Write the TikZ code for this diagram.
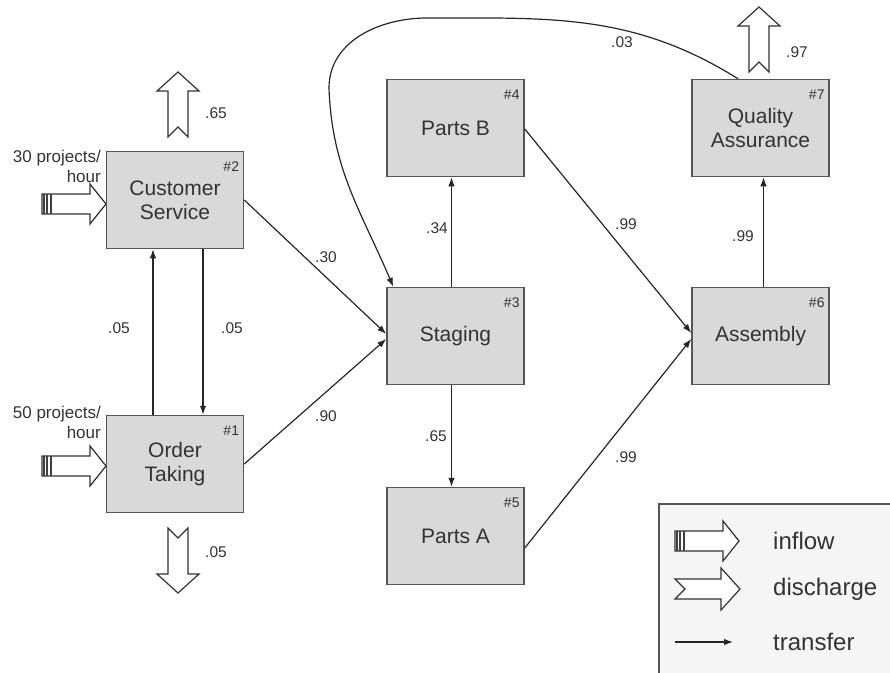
\documentclass[tikz,border=0pt]{standalone}
\usepackage{fontspec}
\setmainfont{Liberation Sans}
\usetikzlibrary{arrows.meta,calc}
\definecolor{boxfill}{HTML}{D9D9D9}
\definecolor{boxline}{HTML}{555555}
\definecolor{txt}{HTML}{333333}
\definecolor{legfill}{HTML}{F5F5F5}
\tikzset{
  proc/.style={draw=boxline, fill=boxfill, line width=1.5pt, minimum width=137pt,
    minimum height=97pt, inner sep=0pt, align=center,
    font=\fontsize{21}{24}\selectfont, text=txt},
  numlab/.style={anchor=north east, font=\fontsize{14}{16}\selectfont, text=txt,
    inner sep=0pt, xshift=-5pt, yshift=-11pt},
  transfer/.style={draw=black!85, line width=1.2pt, -{Latex[length=9pt,width=6.5pt]}},
  prob/.style={font=\fontsize{15.5}{18}\selectfont, text=txt, inner sep=1pt},
  inlab/.style={font=\fontsize{17}{20}\selectfont, text=txt, align=right, inner sep=0pt, anchor=east},
  leglab/.style={font=\fontsize{24}{28}\selectfont, text=txt, anchor=west, inner sep=0pt},
  bigarrow/.style={draw=black!80, fill=white, line width=1.2pt, line join=miter},
  pics/discharge/.style={code={
    \path[bigarrow] (0,10)--(10,0)--(0,-10)--(46,-10)--(46,-21)--(65,0)--(46,21)--(46,10)--cycle;
  }},
  pics/inflow/.style={code={
    \path[bigarrow] (0,10)--(0,-10)--(48,-10)--(48,-20)--(64,0)--(48,20)--(48,10)--cycle;
    \draw[line width=2pt, draw=black!75] (1.5,-10)--(1.5,10) (5,-10)--(5,10) (8.5,-10)--(8.5,10);
  }},
}
\begin{document}
\begin{tikzpicture}[x=1pt,y=1pt]
\path[use as bounding box] (0,0) rectangle (890,-672);

% legend box
\path[draw=boxline, fill=legfill, line width=1.5pt] (659,-504) rectangle (896,-680);

% process boxes
\node[proc] (cs) at (175,-200) {Customer\\Service};
\node[proc] (ot) at (175,-464) {Order\\Taking};
\node[proc] (st) at (455.5,-336) {Staging};
\node[proc] (pb) at (455.5,-128) {Parts B};
\node[proc] (pa) at (455.5,-536) {Parts A};
\node[proc] (as) at (760.5,-336) {Assembly};
\node[proc] (qa) at (760.5,-128) {Quality\\Assurance};

\node[numlab] (n2) at (cs.north east) {\#2};
\node[numlab] (n1) at (ot.north east) {\#1};
\node[numlab] (n3) at (st.north east) {\#3};
\node[numlab] (n4) at (pb.north east) {\#4};
\node[numlab] (n5) at (pa.north east) {\#5};
\node[numlab] (n6) at (as.north east) {\#6};
\node[numlab] (n7) at (qa.north east) {\#7};

% transfers
\draw[transfer] (cs.east) -- ($(st.west)+(0,2)$);
\draw[transfer] (ot.east) -- ($(st.west)+(0,-3)$);
\draw[transfer] ($(cs.south)+(28,0)$) -- ($(ot.north)+(28,0)$);
\draw[transfer] ($(ot.north)+(-22,0)$) -- ($(cs.south)+(-22,0)$);
\draw[transfer] ($(st.north)+(-4,0)$) -- ($(pb.south)+(-4,0)$);
\draw[transfer] ($(st.south)+(-4,0)$) -- ($(pa.north)+(-4,0)$);
\draw[transfer] ($(pb.east)+(0,-1)$) -- ($(as.west)+(0,3)$);
\draw[transfer] ($(pa.east)+(0,-12)$) -- ($(as.west)+(0,-3)$);
\draw[transfer] ($(as.north)+(3,0)$) -- ($(qa.south)+(3,0)$);

% feedback loop
\coordinate (lp1) at (427,-18);
\coordinate (lp2) at (329,-88);
\draw[transfer] ($(qa.north)+(-22.5,0)$) to[out=148,in=0] (lp1)
   to[out=180,in=90] (lp2) to[out=-88,in=113] ($(st.north west)+(7,0)$);

% probabilities
\node[prob] (p30) at (326,-257) {.30};
\node[prob] (p90) at (326,-416) {.90};
\node[prob] (p05a) at (232,-328) {.05};
\node[prob] (p05b) at (119,-328) {.05};
\node[prob] (p34) at (437,-228) {.34};
\node[prob] (p65a) at (436,-436) {.65};
\node[prob] (p99a) at (626,-224) {.99};
\node[prob] (p99b) at (626,-457) {.99};
\node[prob] (p99c) at (743,-236) {.99};
\node[prob] (p03) at (622,-42) {.03};
\node[prob] (p97) at (797,-52) {.97};
\node[prob] (p65b) at (216,-113) {.65};
\node[prob] (p05c) at (216,-552) {.05};

% discharges
\pic[rotate=90] at (178,-137) {discharge};
\pic[rotate=-90] at (178,-528) {discharge};
\pic[rotate=90] at (759,-72) {discharge};

% inflows
\pic at (42,-204) {inflow};
\pic at (42,-466) {inflow};
\node[inlab] (in30) at (101,-166) {30 projects/\\hour};
\node[inlab] (in50) at (101,-422) {50 projects/\\hour};

% legend
\pic at (675,-541) {inflow};
\pic at (675,-589) {discharge};
\coordinate (lt1) at (675,-642);
\coordinate (lt2) at (733,-642);
\draw[transfer] (lt1) -- (lt2);
\node[leglab] (l1) at (773,-541) {inflow};
\node[leglab] (l2) at (773,-589) {discharge};
\node[leglab] (l3) at (773,-642) {transfer};
\end{tikzpicture}
\end{document}
